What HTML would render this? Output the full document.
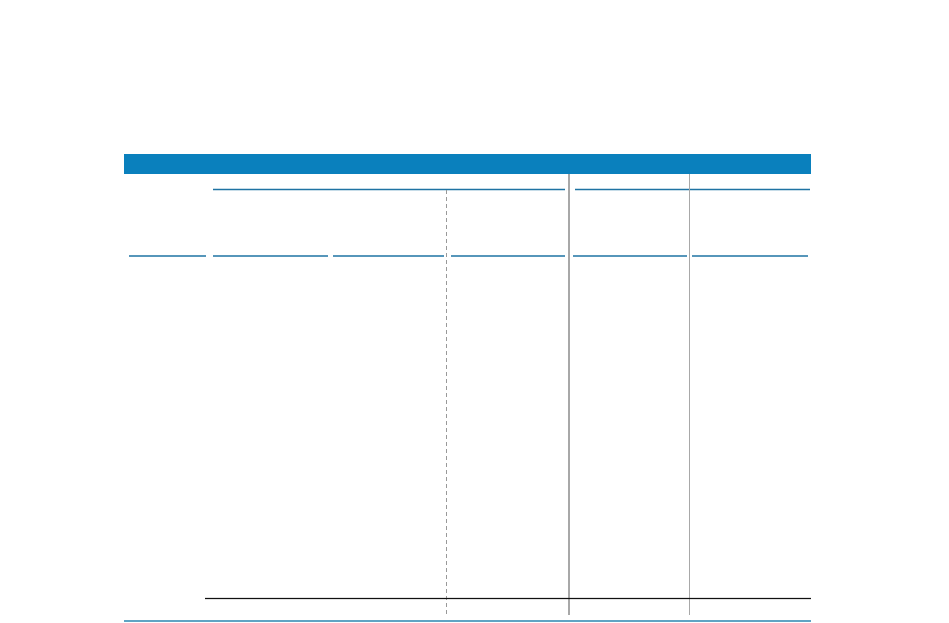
<!DOCTYPE html>
<html><head><meta charset="utf-8"><style>
html,body{margin:0;padding:0;background:#fff;width:949px;height:623px;overflow:hidden}
</style></head><body>
<svg width="949" height="623" xmlns="http://www.w3.org/2000/svg" style="display:block">
<rect x="124" y="154" width="687" height="20" fill="#0a80bd"/>
<g stroke="#1f73a3" stroke-width="1.5">
<line x1="213" y1="189.5" x2="565" y2="189.5"/>
<line x1="575" y1="189.5" x2="810" y2="189.5"/>
<line x1="129" y1="256" x2="206" y2="256"/>
<line x1="213" y1="256" x2="328" y2="256"/>
<line x1="333" y1="256" x2="444" y2="256"/>
<line x1="451" y1="256" x2="565" y2="256"/>
<line x1="573" y1="256" x2="687" y2="256"/>
<line x1="692" y1="256" x2="808" y2="256"/>
</g>
<line x1="446.5" y1="190" x2="446.5" y2="614" stroke="#999" stroke-width="1" stroke-dasharray="4,3"/>
<line x1="569" y1="174" x2="569" y2="615" stroke="#a8a8a8" stroke-width="2"/>
<line x1="689.5" y1="174" x2="689.5" y2="615" stroke="#a8a8a8" stroke-width="1"/>
<line x1="205" y1="598.5" x2="811" y2="598.5" stroke="#111" stroke-width="1.3"/>
<line x1="124" y1="621" x2="811" y2="621" stroke="#2a85b0" stroke-width="1.5"/>
</svg>
</body></html>
